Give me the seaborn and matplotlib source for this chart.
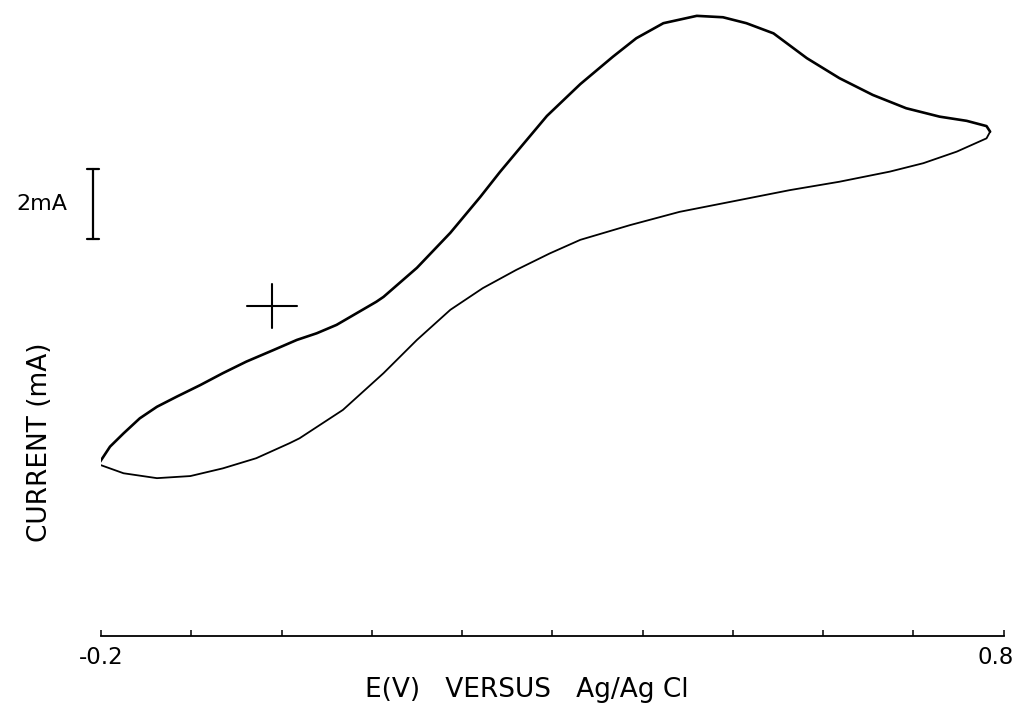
import numpy as np
import pandas as pd
from matplotlib import pyplot as plt
from matplotlib import transforms
import seaborn as sb

# forward (anodic) scan, E in V vs Ag/AgCl, current in mA
fwd_E = [-0.202, -0.190, -0.175, -0.157, -0.138, -0.116, -0.090, -0.065, -0.039,
         -0.009, 0.017, 0.039, 0.061, 0.083, 0.105, 0.113, 0.150, 0.187, 0.220,
         0.242, 0.266, 0.294, 0.331, 0.367, 0.393, 0.423, 0.460, 0.489, 0.515,
         0.545, 0.582, 0.618, 0.655, 0.692, 0.729, 0.759, 0.781, 0.785]
fwd_I = [-4.49, -4.02, -3.64, -3.21, -2.88, -2.59, -2.26, -1.92, -1.59,
         -1.26, -0.97, -0.78, -0.54, -0.21, 0.12, 0.26, 1.09, 2.09, 3.11,
         3.83, 4.57, 5.43, 6.34, 7.12, 7.65, 8.08, 8.29, 8.25, 8.08,
         7.79, 7.08, 6.51, 6.03, 5.65, 5.41, 5.29, 5.14, 4.98]

# reverse scan
rev_E = [0.785, 0.781, 0.748, 0.711, 0.674, 0.618, 0.563, 0.508, 0.441, 0.386,
         0.331, 0.297, 0.260, 0.223, 0.187, 0.150, 0.113, 0.068, 0.020, 0.009,
         -0.028, -0.065, -0.101, -0.138, -0.175, -0.201, -0.202]
rev_I = [4.98, 4.79, 4.41, 4.08, 3.84, 3.55, 3.31, 3.03, 2.69, 2.31,
         1.89, 1.50, 1.03, 0.51, -0.11, -0.97, -1.92, -2.97, -3.78, -3.92,
         -4.35, -4.64, -4.86, -4.92, -4.78, -4.54, -4.49]

tick_values = [-0.2, -0.1, 0.0, 0.1, 0.2, 0.3, 0.4, 0.5, 0.6, 0.7, 0.8]
tick_labels = ["-0.2", "", "", "", "", "", "", "", "", "", "0.8"]

origin = (-0.01, 0.0)      # reference cross
scale_bar = (1.914, 3.914)  # 2 mA bar

sb.set_theme(style="white")
plt.rcParams["font.family"] = ["DejaVu Sans"]
plt.rcParams["text.color"] = "black"
plt.rcParams["axes.labelcolor"] = "black"
plt.rcParams["xtick.color"] = "black"

fig = plt.figure(figsize=(10.2, 7.13), dpi=100)
ax = fig.add_axes([0.099, 0.108, 0.885, 0.892])

fwd = pd.DataFrame({"E": fwd_E, "I": fwd_I})
rev = pd.DataFrame({"E": rev_E, "I": rev_I})
sb.lineplot(fwd, x="E", y="I", sort=False, estimator=None, color="black", lw=1.9, ax=ax)
sb.lineplot(rev, x="E", y="I", sort=False, estimator=None, color="black", lw=1.3, ax=ax)

# cross marking zero current
ax.plot([origin[0] - 0.0277, origin[0] + 0.0277], [origin[1], origin[1]], color="black", lw=1.5)
ax.plot([origin[0], origin[0]], [origin[1] - 0.63, origin[1] + 0.63], color="black", lw=1.5)

# 2 mA scale bar
bx = -0.209
ax.plot([bx, bx], scale_bar, color="black", lw=1.6, clip_on=False)
for yb in scale_bar:
    ax.plot([bx - 0.0066, bx + 0.0066], [yb, yb], color="black", lw=1.6, clip_on=False)
ax.text(bx - 0.057, np.mean(scale_bar), "2mA", fontsize=16, ha="center", va="center")

ax.set_xlim(-0.2, 0.8)
ax.set_ylim(-9.43, 8.743)
ax.set_xticks(tick_values)
ax.set_xticklabels(tick_labels, fontsize=16.5)
ax.set_yticks([])
ax.tick_params(axis="x", bottom=True, direction="in", length=4.5, width=1.1, pad=7)
for side in ["top", "right", "left"]:
    ax.spines[side].set_visible(False)
ax.spines["bottom"].set_linewidth(1.3)
ax.spines["bottom"].set_color("black")

# the 0.8 label sits a little left of its tick
last = ax.get_xticklabels()[-1]
last.set_transform(last.get_transform() + transforms.ScaledTranslation(-8 / 100, 0, fig.dpi_scale_trans))

ax.set_xlabel("E(V)   VERSUS   Ag/Ag Cl", fontsize=19, va="center")
ax.xaxis.set_label_coords(0.472, -0.085)
ax.set_ylabel("CURRENT (mA)", fontsize=19)
ax.yaxis.set_label_coords(-0.053, 0.304)
ax.patch.set_alpha(0)

plt.savefig("out.png", dpi=100)
